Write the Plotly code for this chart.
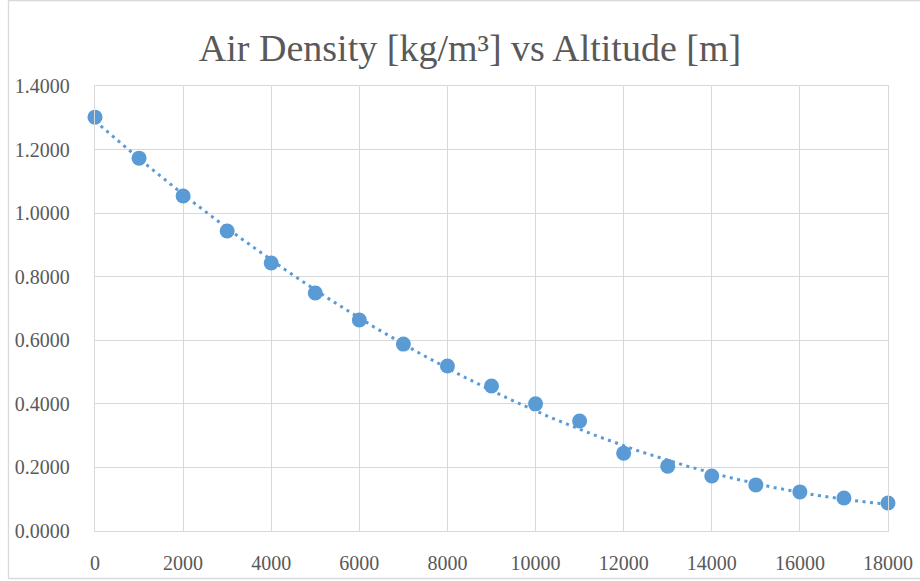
import numpy as np
import plotly.graph_objects as go

altitude = [0, 1000, 2000, 3000, 4000, 5000, 6000, 7000, 8000, 9000, 10000,
            11000, 12000, 13000, 14000, 15000, 16000, 17000, 18000]
density = [1.302, 1.173, 1.054, 0.944, 0.843, 0.749, 0.664, 0.588, 0.519, 0.456,
           0.400, 0.346, 0.245, 0.204, 0.173, 0.145, 0.123, 0.104, 0.088]
x_ticks = [0, 2000, 4000, 6000, 8000, 10000, 12000, 14000, 16000, 18000]
y_ticks = [0.0, 0.2, 0.4, 0.6, 0.8, 1.0, 1.2, 1.4]
title_text = "Air Density [kg/m³] vs Altitude [m]"

blue = "#5B9BD5"
grid = "#D9D9D9"
font_family = "Liberation Serif, Times New Roman, serif"

# polynomial (order 2) trendline fitted from the data, like the spreadsheet trendline
coef = np.polyfit(altitude, density, 2)
xt = np.linspace(min(altitude), max(altitude), 200)
yt = np.polyval(coef, xt)

fig = go.Figure()
fig.add_trace(go.Scatter(x=xt, y=yt, mode="lines",
                         line=dict(color=blue, width=3, dash="3px,4.5px"),
                         hoverinfo="skip", showlegend=False, cliponaxis=False))
fig.add_trace(go.Scatter(x=altitude, y=density, mode="markers",
                         marker=dict(color=blue, size=15, line=dict(width=0)),
                         showlegend=False, cliponaxis=False))

W, H = 920, 581
ml, mr, mt, mb = 95, 32, 86, 50
pw, ph = W - ml - mr, H - mt - mb

axis_common = dict(showgrid=True, gridcolor=grid, gridwidth=1.3,
                   showline=True, mirror=True, linecolor=grid, linewidth=1.3,
                   zeroline=False, ticks="", tickfont=dict(size=20),
                   automargin=False)

fig.update_layout(
    width=W, height=H,
    margin=dict(l=ml, r=mr, t=mt, b=mb, autoexpand=False),
    paper_bgcolor="white", plot_bgcolor="white",
    font=dict(family=font_family, color="#595959", size=20),
    title=dict(text=title_text, x=470 / W, xref="container", xanchor="center",
               y=1 - 48 / H, yref="container", yanchor="middle",
               font=dict(family=font_family, size=38, color="#595959")),
    xaxis=dict(range=[0, 18000], tickvals=x_ticks,
               ticktext=[str(v) for v in x_ticks], ticklabelstandoff=14,
               **axis_common),
    yaxis=dict(range=[0, 1.4], tickvals=y_ticks,
               ticktext=[f"{v:.4f}" for v in y_ticks], ticklabelstandoff=20,
               **axis_common),
    shapes=[dict(type="rect", xref="paper", yref="paper",
                 x0=(8.5 - ml) / pw, x1=(W + 20 - ml) / pw,
                 y0=-(578.5 - (H - mb)) / ph, y1=(H - 0.5 - mb) / ph,
                 line=dict(color="#D9D9D9", width=1.3), fillcolor="rgba(0,0,0,0)",
                 layer="below")],
)

fig.write_html("out.html")
